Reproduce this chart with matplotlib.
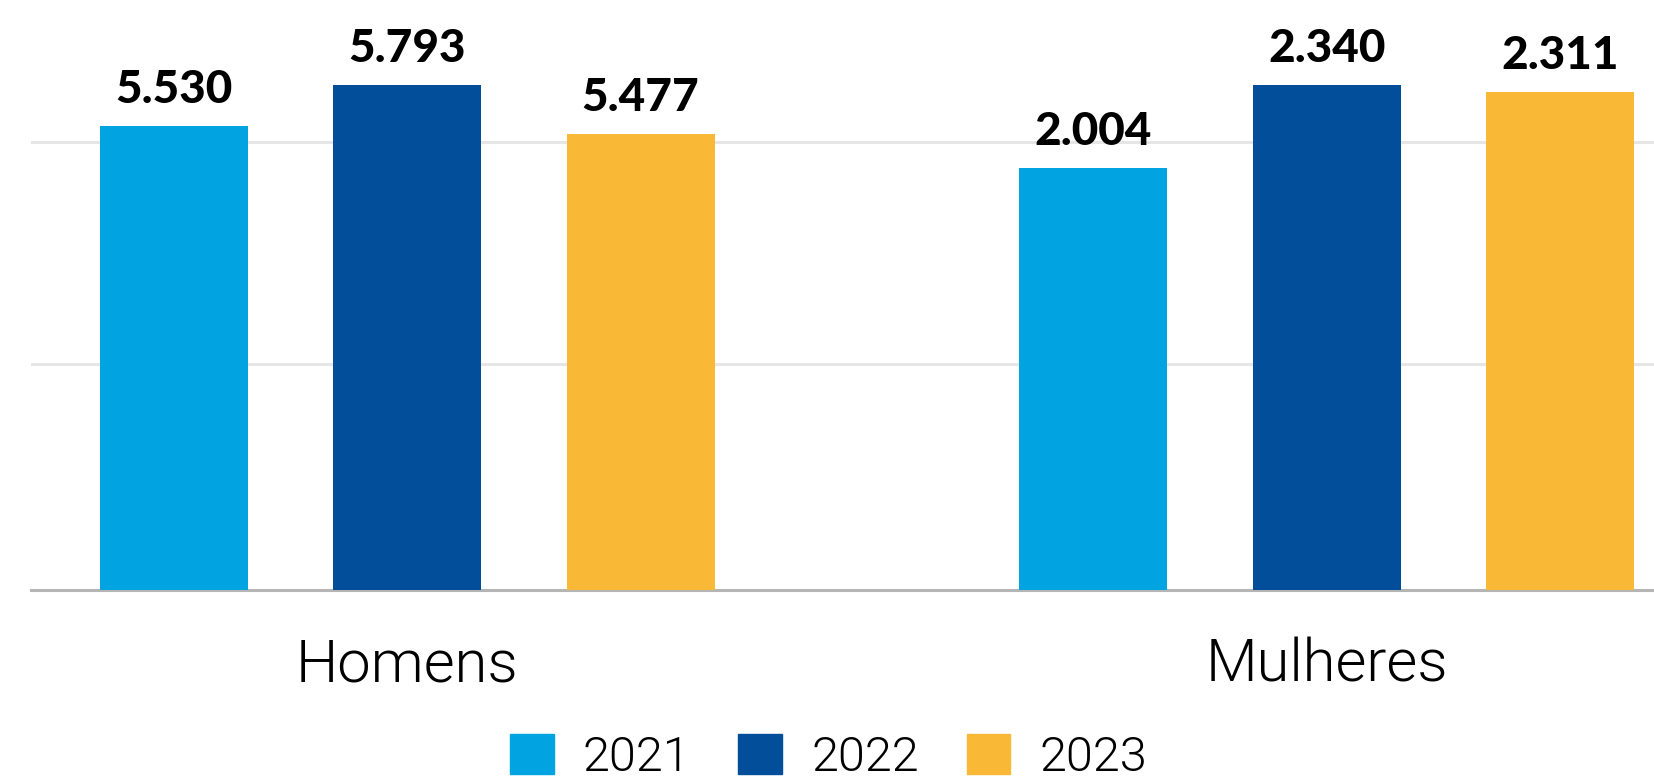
import matplotlib
matplotlib.use("Agg")
import matplotlib.pyplot as plt
from matplotlib.patches import Patch
import numpy as np

# valores por sexo e ano
categorias = ["Homens", "Mulheres"]
anos = ["2021", "2022", "2023"]
homens = [5530, 5793, 5477]
mulheres = [2004, 2340, 2311]
cores = ["#02A3E1", "#024E9B", "#F9B936"]

# cada grupo tem a sua própria escala (eixo y independente)
lim_homens = (2554, 6338)
lim_mulheres = (296, 2685)
grade = [226 / 590, 448 / 590]

plt.rcParams["font.family"] = ["Lato", "DejaVu Sans"]
fonte_fina = ["Roboto", "DejaVu Sans"]

fig = plt.figure(figsize=(16.54, 7.83), dpi=100)
ax = fig.add_axes([31 / 1654, 193 / 783, 1 - 31 / 1654, 590 / 783])
ax2 = ax.twinx()

largura = 0.161
passo = 0.254
centros = np.arange(len(categorias))

for a, lim in ((ax, lim_homens), (ax2, lim_mulheres)):
    a.set_ylim(*lim)
    a.set_yticks([])
    for s in a.spines.values():
        s.set_visible(False)
ax.set_xlim(-0.409, 1.356)
ax.set_xticks([])

# linhas de grade e linha de base
lo, hi = lim_homens
for f in grade:
    ax.axhline(lo + f * (hi - lo), color="#e6e6e6", lw=2.2, zorder=0)
ax.axhline(lo, color="#b5b5b5", lw=2.2, zorder=0, clip_on=False)

for i, ano in enumerate(anos):
    x = (i - 1) * passo
    b1 = ax.bar(centros[0] + x, homens[i], largura, bottom=0, color=cores[i], zorder=2)
    b2 = ax2.bar(centros[1] + x, mulheres[i], largura, bottom=0, color=cores[i], zorder=2)
    for a, b, v in ((ax, b1, homens[i]), (ax2, b2, mulheres[i])):
        a.bar_label(b, labels=[f"{v:,}".replace(",", ".")], padding=11,
                    fontsize=33, fontweight="black", color="black")

for c, nome in zip(centros, categorias):
    ax.text(c, -0.128, nome, transform=ax.get_xaxis_transform(),
            ha="center", va="center", fontsize=43, fontweight=300,
            family=fonte_fina, color="black")

handles = [Patch(color=c) for c in cores]
fig.legend(handles, anos, loc="center", bbox_to_anchor=(0.501, 0.033),
           ncol=3, frameon=False,
           prop={"weight": 300, "size": 35, "family": fonte_fina},
           handlelength=0.9, handleheight=0.9, handletextpad=0.6,
           columnspacing=0.98, borderpad=0)

fig.savefig("out.png", dpi=100)
